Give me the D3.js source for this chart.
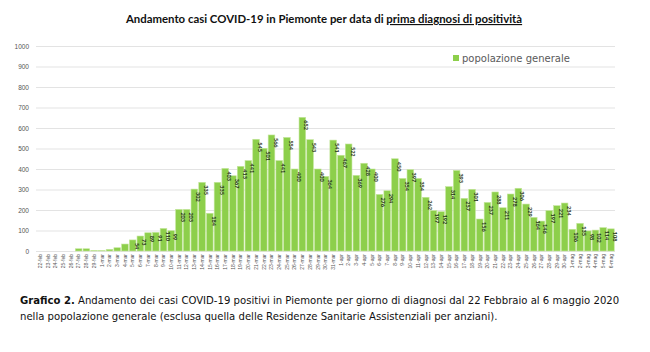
<!DOCTYPE html>
<html>
<head>
<meta charset="utf-8">
<script src="https://cdn.jsdelivr.net/npm/d3@7"></script>
<style>
  body { margin: 0; background: #fff; }
  svg { font-family: Lato, "Open Sans", sans-serif; }
  .tick line { stroke: #e3e3e3; }
  .domain { display: none; }
</style>
</head>
<body>
<div id="chart"></div>
<script>
// giorni (22 feb - 6 mag 2020)
const days = [
  "22-feb","23-feb","24-feb","25-feb","26-feb","27-feb","28-feb","29-feb",
  "1-mar","2-mar","3-mar","4-mar","5-mar","6-mar","7-mar","8-mar","9-mar","10-mar",
  "11-mar","12-mar","13-mar","14-mar","15-mar","16-mar","17-mar","18-mar","19-mar","20-mar",
  "21-mar","22-mar","23-mar","24-mar","25-mar","26-mar","27-mar","28-mar","29-mar","30-mar","31-mar",
  "1-apr","2-apr","3-apr","4-apr","5-apr","6-apr","7-apr","8-apr","9-apr","10-apr",
  "11-apr","12-apr","13-apr","14-apr","15-apr","16-apr","17-apr","18-apr","19-apr","20-apr",
  "21-apr","22-apr","23-apr","24-apr","25-apr","26-apr","27-apr","28-apr","29-apr","30-apr",
  "1-mag","2-mag","3-mag","4-mag","5-mag","6-mag"
];

// casi popolazione generale
const cases = [
  0, 0, 0, 0, 0, 11, 11, 3,
  2, 8, 16, 34, 54, 73, 89, 91, 110, 99,
  203, 203, 302, 335, 184, 335, 403, 367, 413, 441,
  545, 501, 566, 441, 554, 400, 652, 543, 400, 364, 541,
  467, 522, 369, 428, 400, 276, 294, 450, 354, 397,
  354, 262, 197, 192, 314, 393, 257, 301, 156, 237,
  288, 211, 278, 306, 229, 164, 146, 197, 221, 234,
  106, 135, 98, 102, 114, 108
];

const yTicks = [0, 100, 200, 300, 400, 500, 600, 700, 800, 900, 1000];

const width = 650, height = 352;
const mLeft = 36, mRight = 615, mTop = 46, mBottom = 251;

const svg = d3.select("#chart").append("svg")
  .attr("width", width)
  .attr("height", height);

// title
const title = svg.append("text")
  .attr("x", 324).attr("y", 23)
  .attr("text-anchor", "middle")
  .style("font-size", "11.4px")
  .style("font-weight", "bold")
  .style("fill", "#111");
title.append("tspan").text("Andamento casi COVID-19 in Piemonte per data di ");
title.append("tspan").text("prima diagnosi di positività").style("text-decoration", "underline");

let x = d3.scaleBand()
  .domain(days)
  .range([mLeft, mRight])
  .paddingInner(0.14)
  .paddingOuter(0.1);

let y = d3.scaleLinear()
  .domain([0, 1000])
  .range([mBottom, mTop]);

// y axis + grid
svg.append("g")
  .attr("transform", `translate(${mLeft}, 0)`)
  .call(d3.axisLeft(y).tickValues(yTicks).tickFormat(d3.format("d")).tickSize(-(mRight - mLeft)).tickPadding(7))
  .call(g => g.selectAll("text").style("font-size", "6.5px").style("fill", "#555"));

// bars
svg.selectAll("rect.bar")
  .data(cases)
  .enter()
  .append("rect")
    .attr("class", "bar")
    .attr("x", (d, i) => x(days[i]))
    .attr("y", d => y(d))
    .attr("width", x.bandwidth())
    .attr("height", d => mBottom - y(d))
    .style("fill", "#8dcf4b")
    .style("stroke", "#c4e69c")
    .style("stroke-width", 0.6);

// value labels inside bars (rotated)
cases.forEach((d, i) => {
  if (d < 50) return;
  const cx = x(days[i]) + x.bandwidth() / 2;
  svg.append("text")
    .attr("class", "val")
    .attr("transform", `translate(${cx + 2}, ${y(d) + 3}) rotate(90)`)
    .style("font-size", "5.5px")
    .style("font-weight", "bold")
    .style("fill", "#24331a")
    .text(d);
});

// x axis labels
svg.append("g")
  .attr("transform", `translate(0, ${mBottom})`)
  .call(d3.axisBottom(x).tickSize(0).tickPadding(2))
  .call(g => g.selectAll("text")
    .style("font-size", "5px")
    .style("fill", "#555")
    .attr("text-anchor", "end")
    .attr("x", -3)
    .attr("y", 0)
    .attr("dy", "0.35em")
    .attr("transform", "rotate(-90)"));

// legend
svg.append("rect")
  .attr("x", 453).attr("y", 55)
  .attr("width", 6).attr("height", 6)
  .style("fill", "#8dcf4b");
svg.append("text")
  .attr("x", 462).attr("y", 62)
  .style("font-family", "'DejaVu Sans', sans-serif")
  .style("font-size", "10px")
  .style("fill", "#5a5a5a")
  .text("popolazione generale");

// caption
const cap1 = svg.append("text")
  .attr("x", 20).attr("y", 304)
  .style("font-family", "'DejaVu Sans', sans-serif")
  .style("font-size", "10.1px")
  .style("fill", "#111");
cap1.append("tspan").text("Grafico 2.").style("font-weight", "bold");
cap1.append("tspan").text(" Andamento dei casi COVID-19 positivi in Piemonte per giorno di diagnosi dal 22 Febbraio al 6 maggio 2020");

svg.append("text")
  .attr("x", 20).attr("y", 320)
  .style("font-family", "'DejaVu Sans', sans-serif")
  .style("font-size", "10.1px")
  .style("fill", "#111")
  .text("nella popolazione generale (esclusa quella delle Residenze Sanitarie Assistenziali per anziani).");
</script>
</body>
</html>
